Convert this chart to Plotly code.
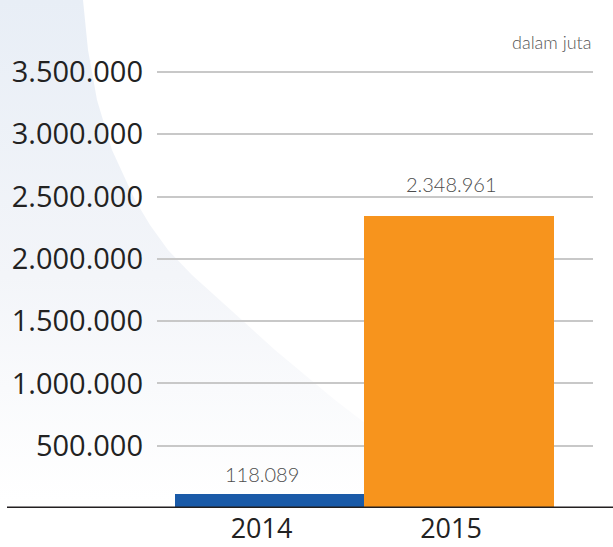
import plotly.graph_objects as go

# Data (values in juta)
years = ["2014", "2015"]
values = [118089, 2348961]
bar_colors = ["#1a5aa8", "#f7941d"]
y_ticks = [500000, 1000000, 1500000, 2000000, 2500000, 3000000, 3500000]
unit_note = "dalam juta"

W, H = 613, 547

def fmt_id(v):
    return f"{v:,}".replace(",", ".")

# Soft background swoosh (pixel space of the whole canvas)
edge_y = [0, 50, 100, 150, 200, 225, 250, 275, 300, 350, 400, 450, 500, 547]
edge_x = [83, 88, 97, 112, 135, 150, 168, 192, 220, 275, 335, 400, 470, 545]
swoosh_x = [0] + edge_x + [0, 0]
swoosh_y = [0] + edge_y + [547, 0]

fig = go.Figure()

fig.add_trace(go.Scatter(
    x=swoosh_x, y=swoosh_y, mode="lines", fill="toself",
    line=dict(width=0, color="rgba(0,0,0,0)"),
    fillgradient=dict(type="vertical", start=0, stop=500,
                      colorscale=[[0, "#e8eef6"], [0.55, "#f3f5f9"], [1, "#ffffff"]]),
    hoverinfo="skip", showlegend=False, xaxis="x", yaxis="y",
))

fig.add_trace(go.Bar(
    x=years, y=values, marker=dict(color=bar_colors, line=dict(width=0)),
    showlegend=False, xaxis="x2", yaxis="y2",
))

# Value labels above bars (category axis: position by index)
label_lift = [5, 17]
for i, (v, lift) in enumerate(zip(values, label_lift)):
    fig.add_annotation(
        x=i, y=v, xref="x2", yref="y2", text=fmt_id(v), showarrow=False,
        yanchor="bottom", yshift=lift, xshift=-8,
        font=dict(family="Lato", size=20, color="#4d4d4d", weight=300),
    )

fig.add_annotation(
    x=593 / W, y=1 - 42 / H, xref="paper", yref="paper", text=unit_note,
    showarrow=False, xanchor="right", yanchor="middle",
    font=dict(family="Lato", size=18, color="#555555", weight=300),
)

# Baseline
fig.add_shape(type="line", xref="paper", yref="y2", x0=7 / W, x1=1, y0=0, y1=0,
              line=dict(color="#231f20", width=3), layer="above")

y_top_px, y_zero_px = 72, 508
px_per_unit = (y_zero_px - y_top_px) / 3500000
y_max = 3520000
dom_top = 1 - (y_zero_px - y_max * px_per_unit) / H

fig.update_layout(
    template="none",
    width=W, height=H, margin=dict(l=0, r=0, t=0, b=0, pad=0, autoexpand=False),
    paper_bgcolor="white", plot_bgcolor="rgba(0,0,0,0)",
    separators=",.", bargap=0, showlegend=False,
    font=dict(family="Open Sans", color="#222222"),
    xaxis=dict(domain=[0, 1], range=[0, W], visible=False, fixedrange=True, automargin=False),
    yaxis=dict(domain=[0, 1], range=[H, 0], visible=False, fixedrange=True, automargin=False),
    xaxis2=dict(
        domain=[157 / W, 593 / W], anchor="y2", type="category",
        range=[-0.594, 1.707], showgrid=False, showline=False, zeroline=False, ticks="",
        tickfont=dict(family="Open Sans", size=27, color="#222222"),
        ticklabelstandoff=2, ticklabelshift=-8, automargin=False,
    ),
    yaxis2=dict(
        domain=[1 - y_zero_px / H, dom_top], anchor="x2",
        range=[0, y_max], tickvals=y_ticks,
        ticktext=[fmt_id(t) for t in y_ticks],
        showgrid=True, gridcolor="#c8c8c8", gridwidth=1.5,
        zeroline=False, showline=False, ticks="",
        tickfont=dict(family="Open Sans", size=29, color="#222222"),
        ticklabelstandoff=13, automargin=False,
    ),
)

fig.write_html("out.html")
